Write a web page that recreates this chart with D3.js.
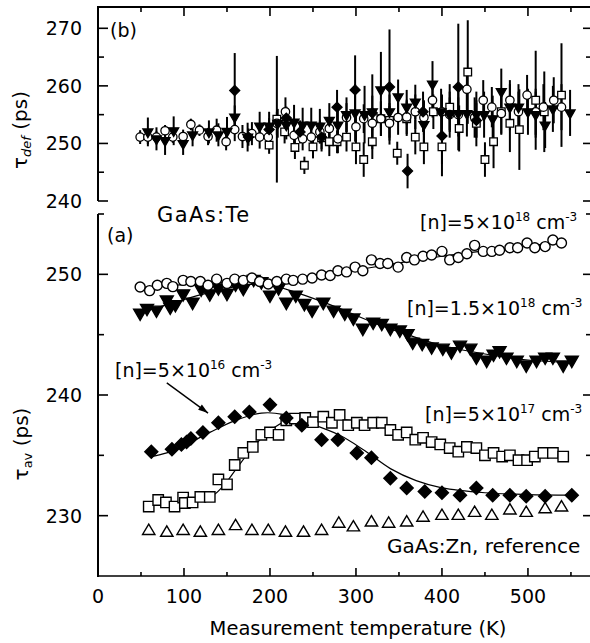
<!DOCTYPE html>
<html><head><meta charset="utf-8">
<script src="https://cdn.jsdelivr.net/npm/d3@7"></script>
<style>
html,body{margin:0;padding:0;background:#fff;}
svg{display:block;}
text{font-family:"DejaVu Sans",sans-serif;fill:#000;}
</style></head>
<body>
<svg id="chart" width="590" height="643"></svg>
<script>
// ---------- DATA ----------
const tempTicks = [0, 100, 200, 300, 400, 500];
const avTicks = [230, 240, 250];
const defTicks = [240, 250, 260, 270];

// panel (a): average lifetime
const av5e18T = [49,60,69,80,87,99,108,119,128,138,150,159,169,179,188,198,208,219,227,238,249,260,270,279,289,299,308,318,328,337,349,359,368,378,388,400,409,419,429,438,448,458,467,479,488,499,508,520,529,539];
const av5e18V = [248.95,248.65,249.1,249.25,248.98,249.5,249.4,249.4,249.1,249.6,249.25,249.6,249.5,249.7,249.4,249.2,249.4,249.6,249.5,249.6,249.7,249.95,249.9,250.3,250.2,250.6,250.3,251.2,250.9,250.9,250.6,251.4,251.2,251.5,251.6,251.9,251.2,251.4,251.7,252.4,251.9,251.9,252.0,252.2,252.2,252.6,252.2,252.3,252.85,252.6];

const av15e18T = [49,57,68,80,84,90,99,110,120,130,140,150,160,169,181,190,200,210,219,230,240,249,262,274,287,297,308,320,330,340,351,360,366,377,388,401,411,421,433,440,452,460,467,475,487,498,510,520,529,541,551];
const av15e18V = [246.8,247.2,247.05,247.9,247.3,247.5,248.4,247.7,248.8,248.4,248.9,248.45,249.2,248.85,249.6,249.4,248.3,248.9,247.7,248.3,247.6,247.05,247.7,247.05,246.8,246.4,245.55,246.05,245.95,245.55,245.4,245.1,244.4,244.3,244.0,243.9,243.6,244.15,243.9,243.15,242.9,243.4,243.7,243.15,242.9,242.5,242.9,243.15,243.15,242.5,242.9];

const av5e16T = [62,86,97,103,108,122,140,159,176,200,219,237,260,279,301,318,340,359,380,400,421,440,459,479,498,520,551];
const av5e16V = [235.3,235.5,235.9,236.1,236.4,236.9,237.7,238.2,238.6,239.2,238.1,237.5,236.3,236.3,235.2,234.8,233.1,232.3,232.0,231.9,231.7,232.3,231.7,231.7,231.6,231.6,231.7];

const av5e17T = [59,70,79,89,99,101,110,119,130,140,150,159,169,180,190,200,210,219,229,241,250,262,272,281,291,301,310,320,330,340,349,359,369,378,388,398,409,419,429,440,450,460,470,479,489,499,508,518,529,541];
const av5e17V = [230.75,231.3,231.1,230.75,231.5,231.05,231.1,231.55,231.55,233.0,232.6,234.2,235.2,235.7,236.7,236.9,236.7,237.9,238.05,238.1,237.75,238.2,237.7,238.35,237.5,237.7,237.5,237.7,237.7,237.1,236.7,236.9,236.3,236.45,236.1,235.9,235.6,235.3,235.7,235.6,235.0,235.2,234.9,235.0,234.6,234.6,234.9,235.2,235.2,234.9];

const avRefT = [59,80,99,119,140,160,179,198,218,239,260,280,297,318,338,359,378,400,419,438,458,479,498,520,539];
const avRefV = [228.8,228.65,228.8,228.65,228.8,229.2,228.8,228.8,228.65,228.65,228.8,229.4,229.1,229.5,229.4,229.5,229.9,230.05,230.05,230.3,230.05,230.5,230.3,230.6,230.75];

// fitted curves
const fit5e18T = [49,100,150,200,250,300,350,400,450,500,540];
const fit5e18V = [248.9,249.15,249.35,249.45,249.75,250.35,250.95,251.5,251.95,252.35,252.7];
const fit15e18T = [49,90,130,170,195,230,280,320,360,400,450,500,551];
const fit15e18V = [246.8,247.7,248.5,249.1,249.2,248.5,247.2,246.0,245.0,244.1,243.4,242.9,242.7];
const fit5e16T = [62,80,100,130,160,190,215,240,280,310,340,370,400,450,500,551];
const fit5e16V = [234.9,235.2,235.8,236.9,237.9,238.5,238.4,237.8,236.7,235.4,233.9,232.9,232.3,231.9,231.75,231.7];
const fit5e17T = [59,100,130,145,160,175,190,205,220,240,270,300,340,380,420,460,500,541];
const fit5e17V = [230.9,231.1,231.5,232.4,233.8,235.2,236.4,237.3,237.9,238.1,238.1,237.8,237.2,236.4,235.6,235.1,234.9,234.9];

// panel (b): defect lifetime [T, value, error]
const def5e18 = [[49,251.1,1.2],[58,251.1,1.2],[68,251.1,1],[78,252.2,1],[87,251.1,1],[99,251.2,1.2],[108,253.3,1],[118,252.3,1],[128,251.2,1.5],[138,252.3,2],[149,250.3,1.5],[159,252.4,2],[168,251.2,2],[179,251.7,2],[188,251.1,2],[198,251.1,2],[208,253.5,2],[218,255.5,2.5],[228,251.4,2],[238,250.8,2],[248,251.1,2],[258,252.0,2],[269,252.6,2],[279,250.8,2.5],[289,254.5,2.5],[300,252.9,2.5],[309,254.3,2.5],[319,253.5,2.5],[329,254.3,3],[339,253.5,3],[349,254.5,3],[359,254.6,3],[369,255.5,3],[379,254.5,3],[389,257.5,3],[400,255.5,3],[409,255.0,3],[419,255.0,3],[429,259.4,3.5],[438,254.5,3.5],[448,257.5,3.5],[458,256.3,3.5],[469,255.2,3.5],[479,257.5,3.5],[489,255.5,3.5],[499,258.4,3.5],[509,255.5,4],[518,256.3,4],[530,257.5,4],[539,256.3,4]];
const def15e18 = [[58,252.0,2.5],[68,250.8,2],[78,250.5,2.5],[88,252.2,2.5],[99,250.0,2],[110,251.5,2],[129,252.0,2],[140,251.5,2],[150,252.1,2.5],[159,254.6,2],[174,251.1,2.5],[188,253.0,2.5],[199,253.0,2.5],[209,253.5,2.5],[219,253.2,2.5],[228,253.7,3],[238,253.2,3],[248,253.2,3],[258,253.0,3],[269,254.0,3],[279,253.2,3],[289,255.0,3],[299,255.3,5],[310,255.0,5],[319,255.5,6.5],[329,259.3,6.6],[339,255.5,3],[349,258.1,3],[359,256.3,3],[369,257.2,3],[379,253.3,4],[389,260.3,4],[399,255.5,4],[409,255.0,4],[419,255.2,4],[429,255.2,4],[440,255.0,4],[449,255.0,4],[459,254.3,4],[469,259.0,4],[479,256.3,4],[489,256.3,4],[500,255.5,4],[509,255.0,4],[520,253.2,4],[529,256.0,4],[549,255.3,4]];
const def5e16 = [[159,259.2,6.5],[175,251.1,1.5],[199,252.4,2],[219,254.4,2],[235,252.0,2],[260,251.1,2.5],[278,256.3,3],[299,259.3,6],[319,255.3,3],[339,259.8,10],[360,245.2,3],[378,255.5,3.5],[400,251.3,7],[419,259.8,11],[440,254.0,3]];
const def5e17 = [[199,249.7,1.5],[208,254.2,11],[217,252.0,2],[229,249.3,2],[240,246.2,1.5],[250,249.4,2],[260,251.0,2],[269,250.3,2.5],[278,250.3,2],[289,251.1,2.5],[300,249.4,3],[309,247.2,3],[319,250.3,3],[329,254.3,3],[339,254.0,3],[348,248.3,2],[359,254.3,3],[369,251.1,3],[379,249.4,3],[390,255.5,3],[400,249.4,3],[409,256.3,4],[420,252.6,4],[430,262.4,9],[440,253.5,4],[450,247.2,3],[460,250.3,4.6],[469,255.5,4],[479,253.5,5],[490,252.4,7],[509,257.5,8.6],[519,255.5,7],[539,258.4,9]];

// ---------- DRAWING ----------
const svg = d3.select("#chart");
const x = d3.scaleLinear().domain([0, 571]).range([98, 589]);
const ya = d3.scaleLinear().domain([225, 255]).range([576, 214]);
const yb = d3.scaleLinear().domain([240, 273.7]).range([201, 7]);

const ink = "#000";
// frame / axes
svg.append("line").attr("x1",97).attr("x2",590).attr("y1",7).attr("y2",7).attr("stroke",ink).attr("stroke-width",2);
svg.append("line").attr("x1",97).attr("x2",590).attr("y1",576).attr("y2",576).attr("stroke",ink).attr("stroke-width",1.6);
svg.append("line").attr("x1",98).attr("x2",98).attr("y1",6).attr("y2",201).attr("stroke",ink).attr("stroke-width",2);
svg.append("line").attr("x1",98).attr("x2",98).attr("y1",214).attr("y2",577).attr("stroke",ink).attr("stroke-width",2);

// x ticks (bottom & top)
const xMinor = d3.range(50, 571, 100);
function vtick(xv, y0, len){ svg.append("line").attr("x1",x(xv)).attr("x2",x(xv)).attr("y1",y0).attr("y2",y0+len).attr("stroke",ink).attr("stroke-width",1.6); }
tempTicks.slice(1).forEach(t=>{ vtick(t,576,-8); vtick(t,7,9); });
xMinor.forEach(t=>{ vtick(t,576,-4); vtick(t,7,5); });
// x labels
svg.append("g").selectAll("text").data(tempTicks).join("text")
  .attr("x",d=>x(d)).attr("y",603).attr("text-anchor","middle").attr("font-size",19).text(d=>d);
svg.append("text").attr("x",358).attr("y",635).attr("text-anchor","middle").attr("font-size",19.5)
  .text("Measurement temperature (K)");

// y ticks
function htick(yp, x0, len){ svg.append("line").attr("x1",x0).attr("x2",x0+len).attr("y1",yp).attr("y2",yp).attr("stroke",ink).attr("stroke-width",1.6); }
defTicks.forEach(v=>{ htick(yb(v),98,10); htick(yb(v),590,-7); });
[245,255,265].forEach(v=>{ htick(yb(v),98,6); htick(yb(v),590,-4); });
[230,240,250].forEach(v=>{ htick(ya(v),98,10); htick(ya(v),590,-7); });
[235,245,255].forEach(v=>{ htick(ya(v),98,6); htick(ya(v),590,-4); });
svg.append("g").selectAll("text").data(defTicks).join("text")
  .attr("x",82).attr("y",d=>yb(d)+7).attr("text-anchor","end").attr("font-size",19).text(d=>d);
svg.append("g").selectAll("text").data(avTicks).join("text")
  .attr("x",82).attr("y",d=>ya(d)+7).attr("text-anchor","end").attr("font-size",19).text(d=>d);

// y titles
const t1 = svg.append("text").attr("transform","translate(27,130) rotate(-90)").attr("text-anchor","middle").attr("font-size",20);
t1.append("tspan").text("τ");
t1.append("tspan").attr("dy",4).attr("font-size",13).attr("font-style","italic").text("def");
t1.append("tspan").attr("dy",-4).text(" (ps)");
const t2 = svg.append("text").attr("transform","translate(28,444) rotate(-90)").attr("text-anchor","middle").attr("font-size",20);
t2.append("tspan").text("τ");
t2.append("tspan").attr("dy",4).attr("font-size",13).text("av");
t2.append("tspan").attr("dy",-4).text(" (ps)");

// panel letters & labels
svg.append("text").attr("x",110).attr("y",37).attr("font-size",19).text("(b)");
svg.append("text").attr("x",107).attr("y",242).attr("font-size",19).text("(a)");
svg.append("text").attr("x",157).attr("y",222).attr("font-size",21).attr("letter-spacing",1.4).text("GaAs:Te");
svg.append("text").attr("x",387).attr("y",553).attr("font-size",20).text("GaAs:Zn, reference");
function concLabel(x0, y0, a, b){
  const t = svg.append("text").attr("x",x0).attr("y",y0).attr("font-size",19);
  t.append("tspan").text("[n]="+a+"×10");
  t.append("tspan").attr("dy",-8).attr("font-size",12).text(b);
  t.append("tspan").attr("dy",8).text(" cm");
  t.append("tspan").attr("dy",-8).attr("font-size",12).text("-3");
}
concLabel(420,229,"5","18");
concLabel(407,315,"1.5","18");
concLabel(115,377,"5","16");
concLabel(425,421,"5","17");

// arrow annotation (data coords)
const arrowFrom = [80, 241.0], arrowTo = [128, 238.5];
const ax1 = x(arrowFrom[0]), ay1 = ya(arrowFrom[1]), ax2 = x(arrowTo[0]), ay2 = ya(arrowTo[1]);
svg.append("line").attr("x1",ax1).attr("y1",ay1).attr("x2",ax2).attr("y2",ay2).attr("stroke",ink).attr("stroke-width",1.4);
{
  const ang = Math.atan2(ay2-ay1, ax2-ax1), L = 10, W = 3.2;
  const bx = ax2 - L*Math.cos(ang), by = ay2 - L*Math.sin(ang);
  const px = -Math.sin(ang)*W, py = Math.cos(ang)*W;
  svg.append("path").attr("d",`M${ax2},${ay2}L${bx+px},${by+py}L${bx-px},${by-py}Z`).attr("fill",ink);
}

// marker shapes
const shapes = {
  circle: r => `M${-r},0A${r},${r} 0 1,0 ${r},0A${r},${r} 0 1,0 ${-r},0Z`,
  down: s => `M${-s},${-0.58*s}L${s},${-0.58*s}L0,${1.15*s}Z`,
  up: s => `M0,${-1.0*s}L${1.03*s},${0.72*s}L${-1.03*s},${0.72*s}Z`,
  diamond: s => `M0,${-s}L${s},0L0,${s}L${-s},0Z`,
  square: s => `M${-s},${-s}H${s}V${s}H${-s}Z`
};

// fitted lines (panel a)
const lineGen = yS => d3.line().x(d=>x(d[0])).y(d=>yS(d[1])).curve(d3.curveCatmullRom);
[[fit5e18T,fit5e18V],[fit15e18T,fit15e18V],[fit5e16T,fit5e16V],[fit5e17T,fit5e17V]].forEach(([T,V])=>{
  svg.append("path").attr("d",lineGen(ya)(d3.zip(T,V))).attr("fill","none").attr("stroke",ink).attr("stroke-width",1.2);
});

function plotA(T, V, shape, size, filled){
  svg.append("g").selectAll("path").data(d3.zip(T,V)).join("path")
    .attr("transform",d=>`translate(${x(d[0])},${ya(d[1])})`)
    .attr("d",shapes[shape](size))
    .attr("fill",filled?ink:"#fff").attr("stroke",ink).attr("stroke-width",1.4);
}
plotA(avRefT, avRefV, "up", 6, false);
plotA(av5e17T, av5e17V, "square", 5.2, false);
plotA(av5e16T, av5e16V, "diamond", 6.5, true);
plotA(av15e18T, av15e18V, "down", 6.5, true);
plotA(av5e18T, av5e18V, "circle", 5, false);

// panel (b) error bars then markers
const defSeries = [
  {data:def5e17, shape:"square", size:3.8, filled:false},
  {data:def5e18, shape:"circle", size:4.2, filled:false},
  {data:def15e18, shape:"down", size:5, filled:true},
  {data:def5e16, shape:"diamond", size:5, filled:true}
];
defSeries.forEach(s=>{
  svg.append("g").selectAll("line").data(s.data).join("line")
    .attr("x1",d=>x(d[0])).attr("x2",d=>x(d[0]))
    .attr("y1",d=>yb(d[1]-d[2])).attr("y2",d=>yb(d[1]+d[2]))
    .attr("stroke",ink).attr("stroke-width",2);
});
defSeries.forEach(s=>{
  svg.append("g").selectAll("path").data(s.data).join("path")
    .attr("transform",d=>`translate(${x(d[0])},${yb(d[1])})`)
    .attr("d",shapes[s.shape](s.size))
    .attr("fill",s.filled?ink:"#fff").attr("stroke",ink).attr("stroke-width",1.3);
});
</script>
</body></html>
